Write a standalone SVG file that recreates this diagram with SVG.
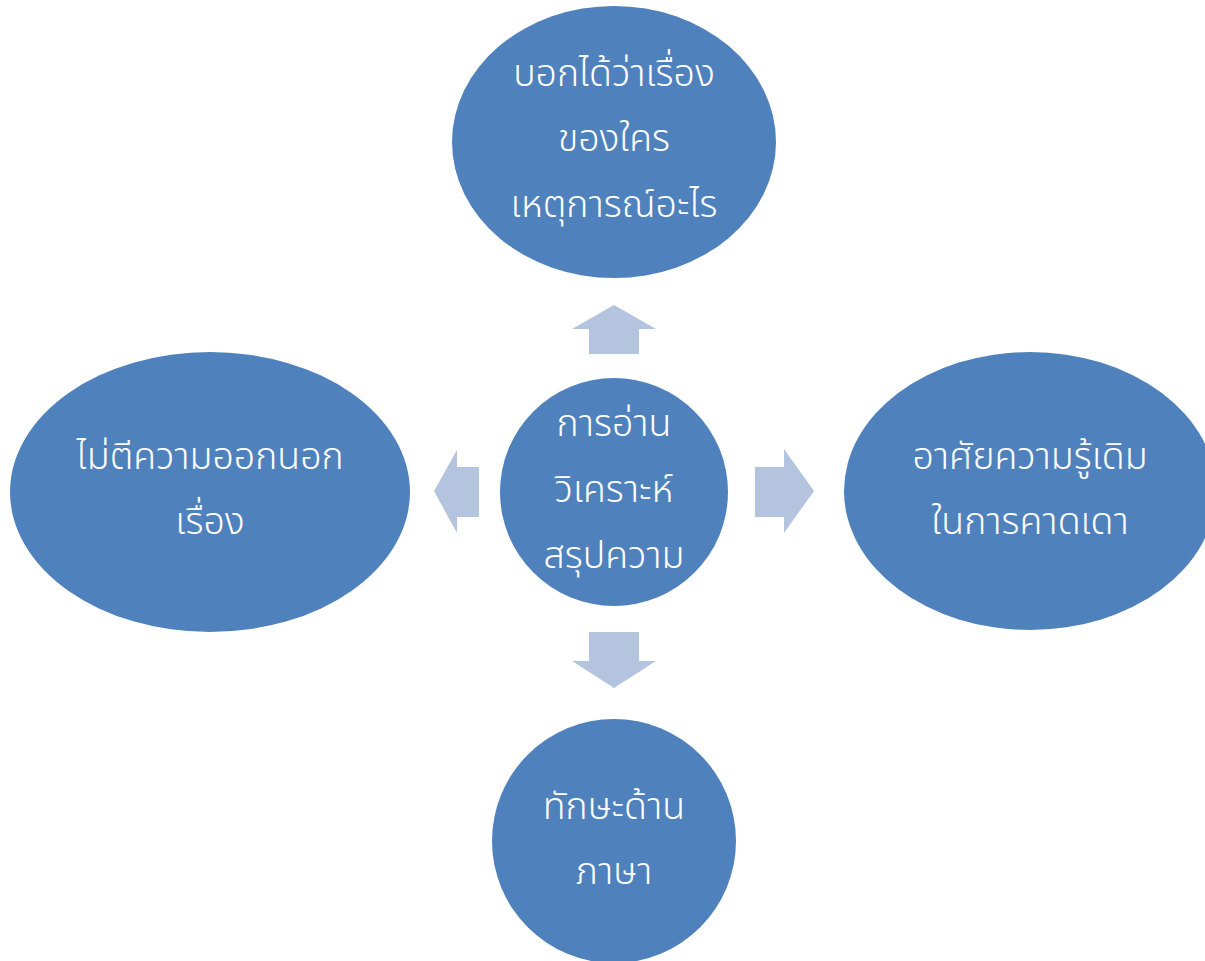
<svg xmlns="http://www.w3.org/2000/svg" width="1205" height="961" viewBox="0 0 1205 961">
<style>
.node{fill:#4F81BD;}
.arrow{fill:#B4C4DE;}
.lbl{fill:#FFFFFF;font-family:"Noto Sans Thai","Noto Sans","DejaVu Sans",sans-serif;font-size:37.5px;font-weight:300;text-anchor:middle;}
</style>
<rect width="1205" height="961" fill="#FFFFFF"/>
<g id="connectors">
<polygon class="arrow" points="614,305 656,329 639,329 639,354 589,354 589,329 572,329"/>
<polygon class="arrow" points="589,632 639,632 639,661 656,661 614,688 572,661 589,661"/>
<polygon class="arrow" points="434,491 457,450 457,467 479,467 479,517 457,517 457,533"/>
<polygon class="arrow" points="755,467 784,467 784,449 814,491 784,533 784,517 755,517"/>
</g>
<g id="node-top">
<ellipse class="node" cx="614" cy="142" rx="162" ry="136"/>
<text class="lbl" x="614" y="86">บอกได้ว่าเรื่อง</text>
<text class="lbl" x="614" y="151">ของใคร</text>
<text class="lbl" x="614" y="217">เหตุการณ์อะไร</text>
</g>
<g id="node-center">
<circle class="node" cx="614" cy="492" r="114"/>
<text class="lbl" x="614" y="436">การอ่าน</text>
<text class="lbl" x="614" y="502">วิเคราะห์</text>
<text class="lbl" x="614" y="568">สรุปความ</text>
</g>
<g id="node-left">
<ellipse class="node" cx="210" cy="492" rx="200" ry="140"/>
<text class="lbl" x="210" y="469">ไม่ตีความออกนอก</text>
<text class="lbl" x="210" y="534">เรื่อง</text>
</g>
<g id="node-right">
<ellipse class="node" cx="1030" cy="491" rx="186" ry="139"/>
<text class="lbl" x="1030" y="469">อาศัยความรู้เดิม</text>
<text class="lbl" x="1030" y="534">ในการคาดเดา</text>
</g>
<g id="node-bottom">
<circle class="node" cx="614" cy="841" r="122"/>
<text class="lbl" x="614" y="819">ทักษะด้าน</text>
<text class="lbl" x="614" y="884">ภาษา</text>
</g>
</svg>
